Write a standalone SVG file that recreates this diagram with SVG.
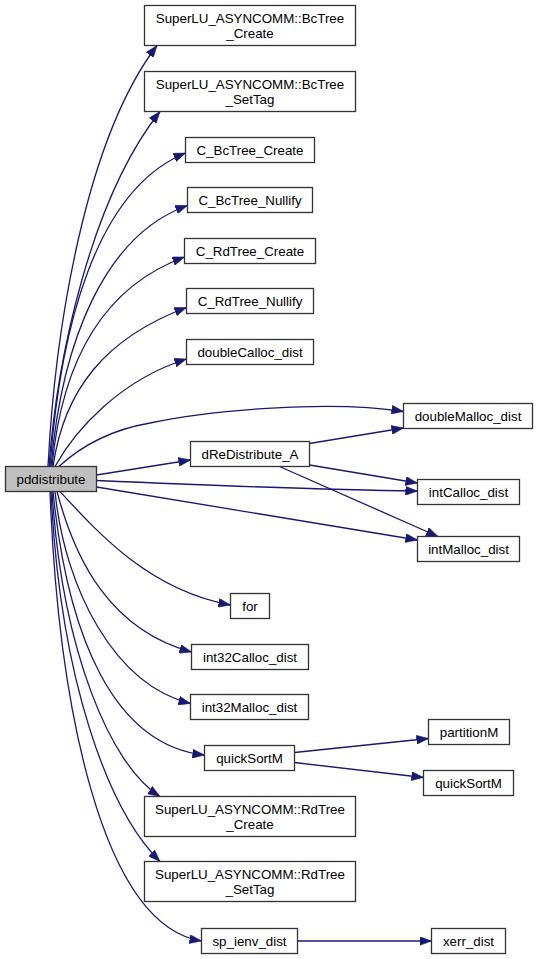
<svg xmlns="http://www.w3.org/2000/svg" width="539" height="959" viewBox="0 0 539 959">
<defs>
<style>
.n rect{fill:#ffffff;stroke:#333333;stroke-width:1.3}
.root rect{fill:#bfbfbf}
.n text{font-family:"Liberation Sans",Arial,sans-serif;font-size:13.33px;fill:#000;text-anchor:middle}
.e path{fill:none;stroke:#191970;stroke-width:1.3;marker-end:url(#ah)}
</style>
<marker id="ah" viewBox="0 0 12 9" refX="12" refY="4.5" markerWidth="12" markerHeight="9" markerUnits="userSpaceOnUse" orient="auto">
<path d="M0,0 L12,4.5 L0,9 z" fill="#191970" stroke="#191970" stroke-width="0.5"/>
</marker>
</defs>
<rect width="539" height="959" fill="#ffffff"/>
<g id="edges" class="e">
<path d="M48,466.5 C55,330 85,140 157,45.5"/>
<path d="M49,466.5 C57,360 90,200 160,111.5"/>
<path d="M50,466.5 C60,330 95,190 185.5,153"/>
<path d="M51,466.5 C62,340 105,235 187.5,205.5"/>
<path d="M52,466.5 C62,360 103,287 184.5,257"/>
<path d="M53,466.5 C64,390 105,338 186.5,307.5"/>
<path d="M55,466.5 C75,430 120,380 186.5,359"/>
<path d="M59,466.5 C80,447 110,430 150,423 C210,410 330,400 403.5,411.5"/>
<path d="M96.5,475 L190.5,460"/>
<path d="M96.5,480.5 C200,485 330,490 417.5,491"/>
<path d="M96.5,487 L417.5,540"/>
<path d="M309.5,443.5 L403.5,428"/>
<path d="M309.5,465 L417.5,483"/>
<path d="M279.5,466.5 L438,536.5"/>
<path d="M60,491.5 C100,535 150,590 230.5,605"/>
<path d="M57,491.5 C75,560 110,630 191.5,652"/>
<path d="M55,491.5 C65,590 115,685 190.5,703.5"/>
<path d="M53,491.5 C68,640 115,745 204.5,755"/>
<path d="M52,491.5 C62,650 110,765 160,796.5"/>
<path d="M51,491.5 C60,680 108,810 160,861.5"/>
<path d="M50,491.5 C58,700 100,925 201.5,941"/>
<path d="M294.5,752.5 L428.5,738.5"/>
<path d="M294.5,762.5 L423.5,777.5"/>
<path d="M297.5,941 L431.5,941"/>
</g>
<g id="pddistribute" class="n root"><rect x="5.5" y="466.5" width="91" height="25"/><text x="51" y="483.5">pddistribute</text></g>
<g id="bctree_create" class="n"><rect x="144.5" y="5.5" width="211" height="40"/><text x="250" y="23">SuperLU_ASYNCOMM::BcTree</text><text x="250" y="38">_Create</text></g>
<g id="bctree_settag" class="n"><rect x="144.5" y="71.5" width="211" height="40"/><text x="250" y="89">SuperLU_ASYNCOMM::BcTree</text><text x="250" y="104">_SetTag</text></g>
<g id="c_bctree_create" class="n"><rect x="185.5" y="137.5" width="129" height="25"/><text x="250" y="154.5">C_BcTree_Create</text></g>
<g id="c_bctree_nullify" class="n"><rect x="187.5" y="187.5" width="125" height="25"/><text x="250" y="204.5">C_BcTree_Nullify</text></g>
<g id="c_rdtree_create" class="n"><rect x="184.5" y="238.5" width="131" height="25"/><text x="250" y="255.5">C_RdTree_Create</text></g>
<g id="c_rdtree_nullify" class="n"><rect x="186.5" y="288.5" width="127" height="25"/><text x="250" y="305.5">C_RdTree_Nullify</text></g>
<g id="doublecalloc_dist" class="n"><rect x="186.5" y="339.5" width="127" height="25"/><text x="250" y="356.5">doubleCalloc_dist</text></g>
<g id="doublemalloc_dist" class="n"><rect x="403.5" y="403.5" width="129" height="25"/><text x="468" y="420.5">doubleMalloc_dist</text></g>
<g id="dredistribute_a" class="n"><rect x="190.5" y="441.5" width="119" height="25"/><text x="250" y="458.5">dReDistribute_A</text></g>
<g id="intcalloc_dist" class="n"><rect x="417.5" y="479.5" width="102" height="25"/><text x="468.5" y="496.5">intCalloc_dist</text></g>
<g id="intmalloc_dist" class="n"><rect x="417.5" y="536.5" width="102" height="25"/><text x="468.5" y="553.5">intMalloc_dist</text></g>
<g id="for" class="n"><rect x="230.5" y="593.5" width="39" height="25"/><text x="250" y="610.5">for</text></g>
<g id="int32calloc_dist" class="n"><rect x="191.5" y="644.5" width="117" height="25"/><text x="250" y="661.5">int32Calloc_dist</text></g>
<g id="int32malloc_dist" class="n"><rect x="190.5" y="694.5" width="118" height="25"/><text x="249.5" y="711.5">int32Malloc_dist</text></g>
<g id="quicksortm" class="n"><rect x="204.5" y="745.5" width="90" height="25"/><text x="249.5" y="762.5">quickSortM</text></g>
<g id="partitionm" class="n"><rect x="428.5" y="719.5" width="81" height="25"/><text x="469" y="736.5">partitionM</text></g>
<g id="quicksortm2" class="n"><rect x="423.5" y="770.5" width="90" height="25"/><text x="468.5" y="787.5">quickSortM</text></g>
<g id="rdtree_create" class="n"><rect x="144.5" y="796.5" width="211" height="40"/><text x="250" y="814">SuperLU_ASYNCOMM::RdTree</text><text x="250" y="829">_Create</text></g>
<g id="rdtree_settag" class="n"><rect x="144.5" y="861.5" width="211" height="40"/><text x="250" y="879">SuperLU_ASYNCOMM::RdTree</text><text x="250" y="894">_SetTag</text></g>
<g id="sp_ienv_dist" class="n"><rect x="201.5" y="928.5" width="96" height="25"/><text x="249.5" y="945.5">sp_ienv_dist</text></g>
<g id="xerr_dist" class="n"><rect x="431.5" y="928.5" width="74" height="25"/><text x="468.5" y="945.5">xerr_dist</text></g>
</svg>
